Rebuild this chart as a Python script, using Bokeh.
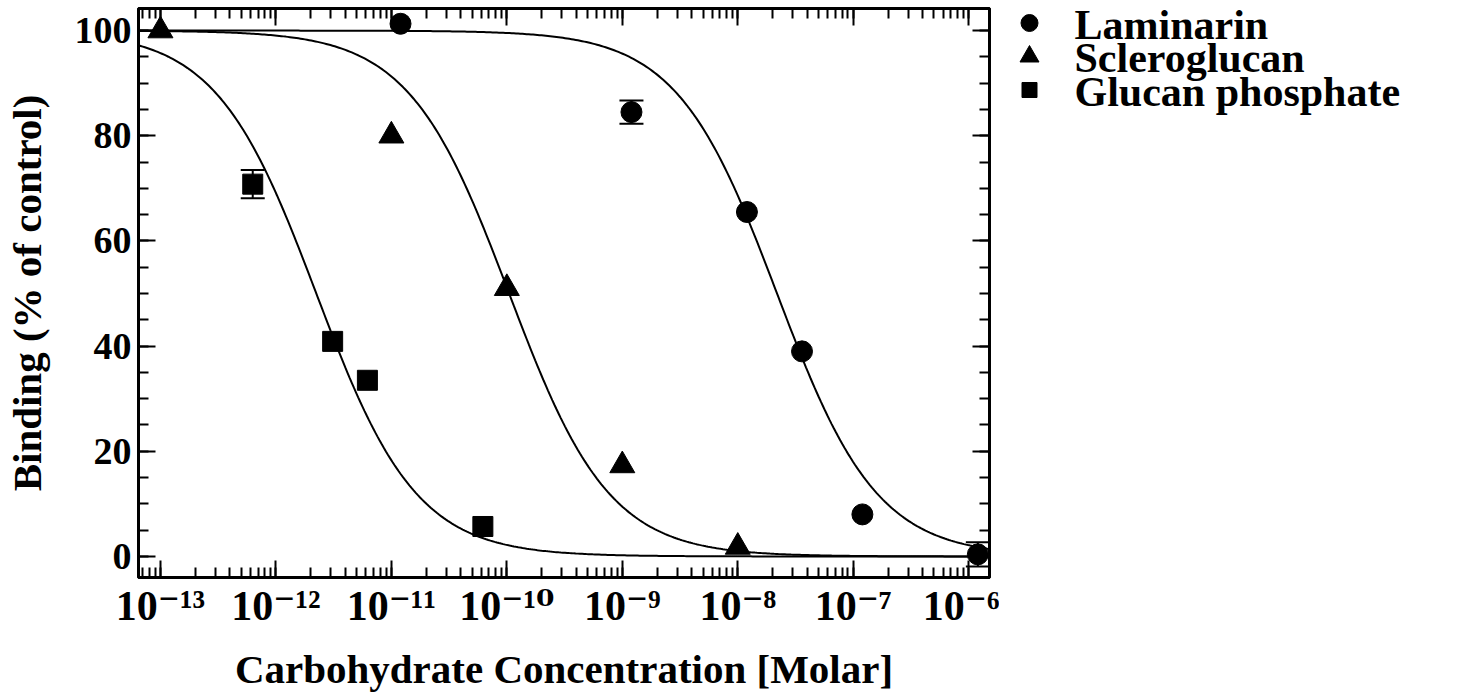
import numpy as np
from bokeh.plotting import figure
from bokeh.models import (Range1d, LinearAxis, LogAxis, LogTicker, SingleIntervalTicker,
                          Whisker, ColumnDataSource, TeeHead, CustomJSTickFormatter)
from bokeh.layouts import row
from bokeh.embed import file_html
from bokeh.resources import INLINE
from bokeh.core.properties import value

# ---------------- data ----------------
series_names = ["Laminarin", "Scleroglucan", "Glucan phosphate"]
series_markers = ["circle", "triangle", "square"]

lam_x = [1.2e-11, 1.2e-9, 1.2e-8, 3.6e-8, 1.2e-7, 1.2e-6]
lam_y = [101.3, 84.5, 65.5, 39.0, 8.0, 0.4]
lam_err = [0.0, 2.2, 0.0, 0.0, 0.0, 2.3]

scl_x = [1e-13, 1e-11, 1e-10, 1e-9, 1e-8]
scl_y = [100.0, 80.0, 51.0, 17.3, 1.8]

gp_x = [6.3e-13, 3.1e-12, 6.2e-12, 6.2e-11]
gp_y = [70.8, 40.9, 33.5, 5.7]
gp_err = [2.7, 0.0, 0.0, 0.0]

# fitted sigmoidal dose-response parameters: top, bottom, log10(IC50), Hill slope
lam_fit = [100.0, 0.0, -7.66, 1.0]
scl_fit = [100.0, 0.0, -9.98, 1.0]
gp_fit = [100.0, 0.0, -11.65, 1.0]

x_lo, x_hi = 10 ** -13.19, 10 ** -5.82
y_lo, y_hi = -4.0, 104.2

FONT = "Liberation Serif"
TOP, FH, FW, LEFT, BOTTOM = 8, 569, 851, 131, 105

# ---------------- main figure ----------------
p = figure(x_axis_type="log", x_range=Range1d(x_lo, x_hi), y_range=Range1d(y_lo, y_hi),
           frame_width=FW, frame_height=FH, output_backend="svg", toolbar_location=None,
           min_border_left=LEFT, min_border_top=TOP, min_border_right=10,
           min_border_bottom=BOTTOM)
p.frame_align = False
p.xgrid.visible = False
p.ygrid.visible = False
p.outline_line_color = "black"
p.outline_line_width = 3
p.background_fill_color = "white"
p.border_fill_color = "white"

blank = CustomJSTickFormatter(code="return '';")
pow10 = CustomJSTickFormatter(code=r"""
const sup = {'-':'\u207B','0':'\u2070','1':'\u00B9','2':'\u00B2','3':'\u00B3','4':'\u2074',
             '5':'\u2075','6':'\u2076','7':'\u2077','8':'\u2078','9':'\u2079'};
const e = Math.round(Math.log10(tick));
return '10' + String(e).split('').map(c => sup[c]).join('');
""")


def style_axis(ax, labels=True):
    ax.axis_line_width = 3
    ax.axis_line_color = "black"
    ax.major_tick_in = 17
    ax.major_tick_out = 0
    ax.minor_tick_in = 10
    ax.minor_tick_out = 0
    ax.major_tick_line_width = 2
    ax.minor_tick_line_width = 2
    ax.major_tick_line_color = "black"
    ax.minor_tick_line_color = "black"
    ax.major_label_text_color = "black"
    ax.axis_label_text_color = "black"
    if not labels:
        ax.formatter = blank
        ax.major_label_standoff = 0


bx = p.xaxis[0]
bx.ticker = LogTicker(num_minor_ticks=10)
style_axis(bx)
bx.formatter = pow10
bx.major_label_text_font = "Liberation Serif, DejaVu Serif"
bx.major_label_text_font_style = "bold"
bx.major_label_text_font_size = "42px"
bx.major_label_standoff = 5
bx.axis_label = "Carbohydrate Concentration [Molar]"
bx.axis_label_text_font = FONT
bx.axis_label_text_font_style = "bold"
bx.axis_label_text_font_size = "41px"
bx.axis_label_standoff = 14

ly = p.yaxis[0]
ly.ticker = SingleIntervalTicker(interval=20, num_minor_ticks=4)
style_axis(ly)
ly.major_label_text_font = FONT
ly.major_label_text_font_style = "bold"
ly.major_label_text_font_size = "38px"
ly.major_label_standoff = 7
ly.axis_label = "Binding (% of control)"
ly.axis_label_text_font = FONT
ly.axis_label_text_font_style = "bold"
ly.axis_label_text_font_size = "41px"
ly.axis_label_standoff = 22

ry = LinearAxis(ticker=SingleIntervalTicker(interval=20, num_minor_ticks=4))
style_axis(ry, labels=False)
p.add_layout(ry, "right")

tx = LogAxis(ticker=LogTicker(num_minor_ticks=10))
style_axis(tx, labels=False)
p.add_layout(tx, "above")

# fitted curves
xx = np.logspace(np.log10(x_lo), np.log10(x_hi), 400)
for fit in (lam_fit, scl_fit, gp_fit):
    top, bot, lic, h = fit
    yy = bot + (top - bot) / (1.0 + 10.0 ** (h * (np.log10(xx) - lic)))
    p.line(xx, yy, line_color="black", line_width=2)


# error bars
def add_err(xs, ys, es):
    xs2 = [x for x, e in zip(xs, es) if e > 0]
    lo = [y - e for y, e in zip(ys, es) if e > 0]
    hi = [y + e for y, e in zip(ys, es) if e > 0]
    src = ColumnDataSource(dict(x=xs2, lower=lo, upper=hi))
    w = Whisker(source=src, base="x", lower="lower", upper="upper", dimension="height",
                line_width=2, line_color="black",
                upper_head=TeeHead(size=24, line_width=2, line_color="black"),
                lower_head=TeeHead(size=24, line_width=2, line_color="black"))
    p.add_layout(w)


add_err(lam_x, lam_y, lam_err)
add_err(gp_x, gp_y, gp_err)

p.scatter(lam_x, lam_y, marker="circle", size=21, color="black")
p.scatter(scl_x, scl_y, marker="triangle", size=25, color="black")
p.scatter(gp_x, gp_y, marker="square", size=20, color="black")

# ---------------- legend panel (coordinates = page pixels) ----------------
LW = 450
LX0 = 1000
LH = 300
leg = figure(x_range=Range1d(LX0, LX0 + LW), y_range=Range1d(LH, 0),
             frame_width=LW, frame_height=LH, x_axis_type=None, y_axis_type=None,
             output_backend="svg", toolbar_location=None,
             min_border_left=0, min_border_right=0, min_border_top=0, min_border_bottom=0)
leg.frame_align = False
leg.xgrid.visible = False
leg.ygrid.visible = False
leg.outline_line_color = None
leg.background_fill_color = "white"
leg.border_fill_color = "white"

row_top, row_gap = 22.5, 33.5
ys_m = [row_top + i * row_gap for i in range(3)]
leg.scatter(x=[LX0 + 30] * 3, y=ys_m, marker=series_markers, size=[17, 19, 15], color="black")
leg.text(x=[LX0 + 75] * 3, y=[y + 1.5 for y in ys_m], text=series_names, text_font=value(FONT),
         text_font_style="bold", text_font_size="42px", text_baseline="middle",
         text_color="black")

layout = row(p, leg)
open("out.html", "w", encoding="utf-8").write(file_html(layout, INLINE))
